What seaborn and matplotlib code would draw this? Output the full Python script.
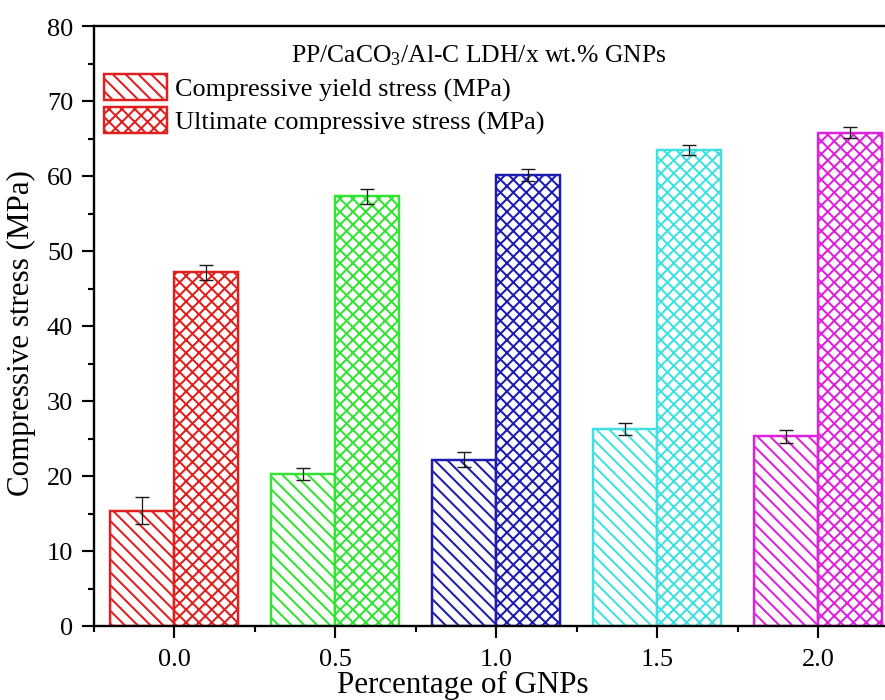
import matplotlib
matplotlib.use("Agg")
import matplotlib.pyplot as plt
from matplotlib.patches import Patch, Rectangle
from matplotlib.ticker import MultipleLocator
import numpy as np
import pandas as pd
import seaborn as sns

# GNP loading (wt.%) and measured compressive properties
gnp_levels = [0.0, 0.5, 1.0, 1.5, 2.0]
tick_labels = ["0.0", "0.5", "1.0", "1.5", "2.0"]
yield_stress = [15.4, 20.3, 22.2, 26.3, 25.3]
yield_err = [1.8, 0.8, 1.0, 0.8, 0.9]
ultimate_stress = [47.2, 57.3, 60.2, 63.5, 65.8]
ultimate_err = [1.0, 1.0, 0.8, 0.7, 0.7]
series_names = ["Compressive yield stress (MPa)", "Ultimate compressive stress (MPa)"]
group_colors = ["#E0201E", "#33E333", "#1C1CB0", "#40E0E0", "#DD22DD"]
series_hatches = ["\\\\", "xx"]
title_text = r"PP/CaCO$_3$/Al-C LDH/x wt.% GNPs"

DPI = 77
sns.set_style("ticks")
plt.rcParams["font.family"] = ["Liberation Serif", "DejaVu Serif"]
plt.rcParams["mathtext.fontset"] = "custom"
plt.rcParams["mathtext.rm"] = "Liberation Serif"
plt.rcParams["mathtext.it"] = "Liberation Serif:italic"
plt.rcParams["hatch.linewidth"] = 1.9
plt.rcParams["text.color"] = "black"
plt.rcParams["axes.labelcolor"] = "black"
plt.rcParams["xtick.color"] = "black"
plt.rcParams["ytick.color"] = "black"

df = pd.DataFrame({
    "gnp": gnp_levels * 2,
    "stress": yield_stress + ultimate_stress,
    "series": [series_names[0]] * len(gnp_levels) + [series_names[1]] * len(gnp_levels),
})

fig = plt.figure(figsize=(885 / DPI, 701 / DPI), dpi=DPI)
fig.patch.set_facecolor("white")
ax = fig.add_axes([93.5 / 885, 1 - 627 / 701, 805 / 885, 600 / 701])

sns.barplot(data=df, x="gnp", y="stress", hue="series", hue_order=series_names,
            native_scale=True, width=0.8, gap=0, errorbar=None, legend=False, ax=ax)

# style each bar by its group (colour) and series (hatch)
levels = np.array(gnp_levels)
centers = [[None] * len(gnp_levels) for _ in series_names]
for bar in ax.patches:
    if not isinstance(bar, Rectangle) or bar.get_height() <= 0:
        continue
    c = bar.get_x() + bar.get_width() / 2
    j = int(np.argmin(np.abs(levels - c)))
    i = 0 if c < levels[j] else 1
    bar.set_facecolor("white")
    bar.set_edgecolor(group_colors[j])
    bar.set_hatch(series_hatches[i])
    bar.set_linewidth(2.3)
    centers[i][j] = c

errs = [yield_err, ultimate_err]
vals = [yield_stress, ultimate_stress]
for i in range(len(series_names)):
    ax.errorbar(centers[i], vals[i], yerr=errs[i], fmt="none", ecolor="#1a1a1a",
                elinewidth=1.2, capsize=7, capthick=1.3, zorder=5)

ax.set_xlim(-0.25, 2.25)
ax.set_ylim(0, 80)
ax.set_xticks(gnp_levels)
ax.set_xticklabels(tick_labels)
ax.xaxis.set_minor_locator(MultipleLocator(0.25))
ax.yaxis.set_major_locator(MultipleLocator(10))
ax.yaxis.set_minor_locator(MultipleLocator(5))
ax.tick_params(axis="both", which="major", direction="out", length=11, width=2,
               labelsize=24.5, color="black", labelcolor="black")
ax.tick_params(axis="both", which="minor", direction="out", length=6, width=2)
ax.tick_params(axis="x", which="major", pad=10)
ax.tick_params(axis="y", which="major", pad=8)
ax.tick_params(top=False, right=False, which="both")

for side in ["left", "bottom", "top"]:
    ax.spines[side].set_visible(True)
    ax.spines[side].set_linewidth(2.2)
    ax.spines[side].set_color("black")
ax.spines["right"].set_visible(False)

ax.set_xlabel("Percentage of GNPs", fontsize=29)
ax.set_ylabel("Compressive stress (MPa)", fontsize=29)
ax.xaxis.set_label_coords(0.459, -0.074)
ax.yaxis.set_label_coords(-0.072, 0.49)

ax.text(0.479, 0.953, title_text, transform=ax.transAxes, ha="center", va="center",
        fontsize=24)

handles = []
for h in series_hatches:
    p = Patch(facecolor="white", edgecolor=group_colors[0], hatch=h, linewidth=2.3)
    handles.append(p)
ax.legend(handles, series_names, loc="upper left", bbox_to_anchor=(0.0132, 0.92),
          frameon=False, fontsize=24.5, handlelength=2.4, handleheight=1.15,
          labelspacing=0.2, handletextpad=0.3, borderpad=0, borderaxespad=0)

fig.savefig("out.png", dpi=DPI, facecolor="white")
